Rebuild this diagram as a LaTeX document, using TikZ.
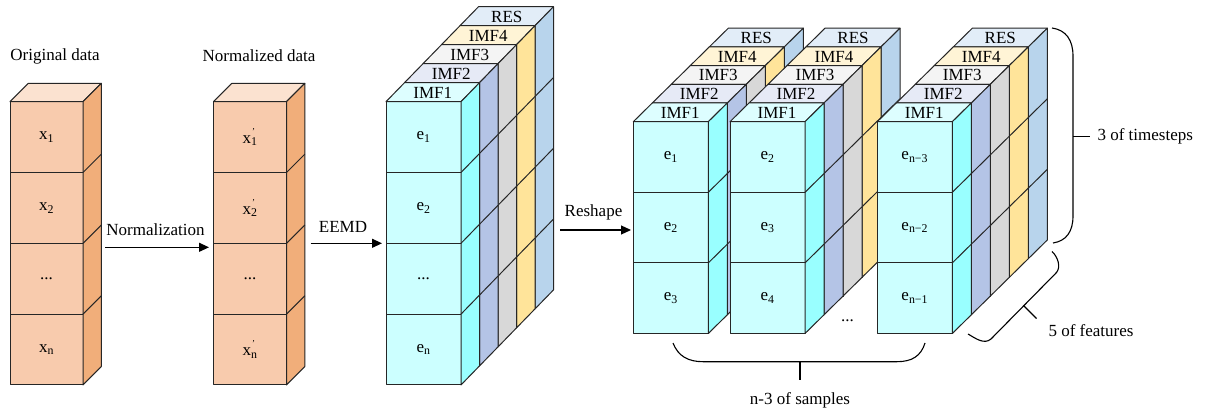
\documentclass[tikz,border=0pt]{standalone}
\usepackage{fontspec}
\setmainfont{Liberation Serif}
\usetikzlibrary{arrows.meta}

\definecolor{linec}{HTML}{262626}
\definecolor{orF}{HTML}{F8CBAD}
\definecolor{orT}{HTML}{FBE2D0}
\definecolor{orS}{HTML}{F1AE7A}
\definecolor{cyF}{HTML}{CCFFFF}
\definecolor{cyT}{HTML}{DDFEFF}
\definecolor{cyS}{HTML}{99FFFF}
\definecolor{buT}{HTML}{E6EAF6}
\definecolor{buS}{HTML}{B4C4E6}
\definecolor{grT}{HTML}{F4F4F4}
\definecolor{grS}{HTML}{D8D8D8}
\definecolor{yeT}{HTML}{FFF4D6}
\definecolor{yeS}{HTML}{FFE49A}
\definecolor{reT}{HTML}{E2EDF8}
\definecolor{reS}{HTML}{B8D4EC}

% box geometry: front width, cell height, depth offsets
\newcommand\bw{73}
\newcommand\bh{70.8}
\newcommand\bdx{18.3}
\newcommand\bdy{18.3}

\newcounter{cub}
% #1 x, #2 y (top-left of front face), #3 cells, #4 front, #5 top, #6 side, #7 top label, #8 extra style
\newcommand\cuboid[8]{%
  \stepcounter{cub}%
  \begin{scope}[edge/.style={draw=linec,line width=1pt,line join=round},#8]
    \pgfmathtruncatemacro\nm{#3-1}%
    \filldraw[edge,fill=#4] ({#1},{#2}) rectangle ({#1+\bw},{#2+#3*\bh});
    \foreach \k in {1,...,\nm}{\draw[edge] ({#1},{#2+\k*\bh}) -- ++(\bw,0);}
    \filldraw[edge,fill=#5] ({#1},{#2}) -- ++(\bdx,-\bdy) -- ++(\bw,0) -- ++(-\bdx,\bdy) -- cycle;
    \filldraw[edge,fill=#6] ({#1+\bw},{#2}) -- ++(\bdx,-\bdy) -- ++(0,{#3*\bh}) -- ++(-\bdx,\bdy) -- cycle;
    \foreach \k in {1,...,\nm}{\draw[edge] ({#1+\bw},{#2+\k*\bh}) -- ++(\bdx,-\bdy);}
    \if\relax\detokenize{#7}\relax\else
      \node[inner sep=0pt] (top\thecub) at ({#1+\bw/2+\bdx/2},{#2-\bdy/2+0.5}) {#7};
    \fi
  \end{scope}}

% five stacked components IMF1..IMF4, RES drawn back to front
\newcommand\imfstack[4]{%
  \cuboid{#1+4*\bdx}{#2-4*\bdy}{#3}{reS}{reT}{reS}{RES}{}%
  \cuboid{#1+3*\bdx}{#2-3*\bdy}{#3}{yeS}{yeT}{yeS}{IMF4}{#4}%
  \cuboid{#1+2*\bdx}{#2-2*\bdy}{#3}{grS}{grT}{grS}{IMF3}{}%
  \cuboid{#1+\bdx}{#2-\bdy}{#3}{buS}{buT}{buS}{IMF2}{}%
  \cuboid{#1}{#2}{#3}{cyF}{cyT}{cyS}{IMF1}{}}

\newcommand\xs[1]{x\textsubscript{#1}}
% normalized value: prime set high above the subscript
\newcommand\xps[1]{x\rlap{\raisebox{9pt}{\fontsize{9}{9}\selectfont\kern1pt'}}\textsubscript{#1}}
\newcommand\es[1]{e\textsubscript{#1}}

\begin{document}
\begin{tikzpicture}[x=1pt,y=-1pt,
  every node/.style={font=\fontsize{17}{19}\selectfont,text=black},
  arr/.style={draw=black,line width=1.2pt,-{Triangle[length=10pt,width=9pt]}},
  brace/.style={draw=black,line width=1.1pt}]
\useasboundingbox (0,0) rectangle (1205,414);
\fill[white] (0,0) rectangle (1205,414);

% ---------- original and normalized columns ----------
\cuboid{10}{101.7}{4}{orF}{orT}{orS}{}{}
\cuboid{213.5}{101.7}{4}{orF}{orT}{orS}{}{}
\node (tOrig) at (55,56) {Original data};
\node (tNorm) at (259,56) {Normalized data};
\node (x1) at (46.5,137.1) {\xs{1}};
\node (x2) at (46.5,207.9) {\xs{2}};
\node (x3) at (46.5,278.7) {...};
\node (x4) at (46.5,349.5) {\xs{n}};
\node (y1) at (250,137.1) {\xps{1}};
\node (y2) at (250,207.9) {\xps{2}};
\node (y3) at (250,278.7) {...};
\node (y4) at (250,349.5) {\xps{n}};

% ---------- EEMD output ----------
\renewcommand\bw{75}
\renewcommand\bdx{18.5}
\renewcommand\bdy{19}
\imfstack{386}{101.7}{4}{}
\node (e1) at (423.5,137.1) {\es{1}};
\node (e2) at (423.5,207.9) {\es{2}};
\node (e3) at (423.5,278.7) {...};
\node (e4) at (423.5,349.5) {\es{n}};

% ---------- reshaped samples ----------
\renewcommand\bh{70.6}
\renewcommand\bdx{19}
\renewcommand\bdy{18.7}
\imfstack{633.3}{121.7}{3}{}
\imfstack{730}{121.7}{3}{}
\imfstack{877.3}{121.7}{3}{draw=linec!35}
\node (s11) at (670.8,157) {\es{1}};
\node (s12) at (670.8,227.6) {\es{2}};
\node (s13) at (670.8,298.2) {\es{3}};
\node (s21) at (767.5,157) {\es{2}};
\node (s22) at (767.5,227.6) {\es{3}};
\node (s23) at (767.5,298.2) {\es{4}};
\node (s31) at (914.8,157) {\es{n−3}};
\node (s32) at (914.8,227.6) {\es{n−2}};
\node (s33) at (914.8,298.2) {\es{n−1}};
\node (dots) at (847.5,321) {...};

% ---------- arrows ----------
\coordinate (a1s) at (105,247.3);
\coordinate (a1e) at (209,247.3);
\coordinate (a2s) at (310.5,243.3);
\coordinate (a2e) at (382,243.3);
\coordinate (a3s) at (560,230);
\coordinate (a3e) at (631,230);
\draw[arr] (a1s) -- (a1e);
\draw[arr] (a2s) -- (a2e);
\draw[arr] (a3s) -- (a3e);
\node (lNorm) at (155.5,230) {Normalization};
\node (lEEMD) at (343,226.5) {EEMD};
\node (lRes) at (593.5,212) {Reshape};

% ---------- braces ----------
\coordinate (bt0) at (1052,28);
\coordinate (bt1) at (1053,243);
\coordinate (btm) at (1073,136.7);
\coordinate (btt) at (1090,136.7);
\draw[brace] (bt0) .. controls (1066,30) and (1073,40) .. (1073,56) -- (1073,216)
  .. controls (1073,232) and (1066,241) .. (bt1);
\draw[brace] (btm) -- (btt);
\node[anchor=west] (lTime) at (1094,136.7) {3 of timesteps};

\coordinate (bf0) at (1052,251.5);
\coordinate (bf1) at (968,334);
\coordinate (bfm) at (1023.5,305.5);
\coordinate (bft) at (1036.5,318.5);
\draw[brace] (bf0) .. controls (1058,257) and (1061,267) .. (1056.5,272.5) -- (991,339)
  .. controls (984,345) and (975,338) .. (bf1);
\draw[brace] (bfm) -- (bft);
\node[anchor=west] (lFeat) at (1045,330.5) {5 of features};

\coordinate (bs0) at (673,343);
\coordinate (bs1) at (925,343);
\coordinate (bsm) at (800,361.7);
\coordinate (bst) at (800,380);
\draw[brace] (bs0) .. controls (678,356) and (688,361.7) .. (703,361.7) -- (897,361.7)
  .. controls (912,361.7) and (921,356) .. (bs1);
\draw[brace] (bsm) -- (bst);
\node (lSamp) at (800,400) {n-3 of samples};
\end{tikzpicture}
\end{document}
